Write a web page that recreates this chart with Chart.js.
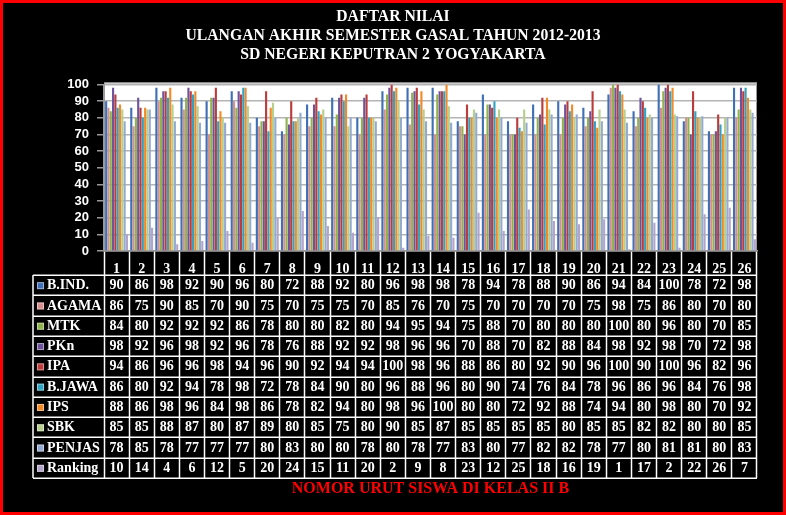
<!DOCTYPE html>
<html>
<head>
<meta charset="utf-8">
<title>Daftar Nilai</title>
<script src="https://cdn.jsdelivr.net/npm/chart.js@4.4.1/dist/chart.umd.min.js"></script>
<style>
  html, body { margin: 0; padding: 0; background: #000; }
  #wrap { position: relative; width: 786px; height: 515px; }
  #frame { position: absolute; left: 0; top: 0; width: 786px; height: 515px; box-sizing: border-box; border: 3px solid #ff0000; pointer-events: none; }
</style>
</head>
<body>
<div id="wrap">
  <canvas id="nilaiChart"></canvas>
  <div id="frame"></div>
</div>
<script>
// Data
const students = ['1', '2', '3', '4', '5', '6', '7', '8', '9', '10', '11', '12', '13',
    '14', '15', '16', '17', '18', '19', '20', '21', '22', '23', '24', '25', '26'];
const yTicks = [0, 10, 20, 30, 40, 50, 60, 70, 80, 90, 100];

const subjects = ['B.IND.', 'AGAMA', 'MTK', 'PKn', 'IPA', 'B.JAWA', 'IPS', 'SBK', 'PENJAS', 'Ranking'];
const bInd    = [90, 86, 98, 92, 90, 96, 80, 72, 88, 92, 80, 96, 98, 98, 78, 94, 78, 88, 90, 86, 94, 84, 100, 78, 72, 98];
const agama   = [86, 75, 90, 85, 70, 90, 75, 70, 75, 75, 70, 85, 76, 70, 75, 70, 70, 70, 70, 75, 98, 75, 86, 80, 70, 80];
const mtk     = [84, 80, 92, 92, 92, 86, 78, 80, 80, 82, 80, 94, 95, 94, 75, 88, 70, 80, 80, 80, 100, 80, 96, 80, 70, 85];
const pkn     = [98, 92, 96, 98, 92, 96, 78, 76, 88, 92, 92, 98, 96, 96, 70, 88, 70, 82, 88, 84, 98, 92, 98, 70, 72, 98];
const ipa     = [94, 86, 96, 96, 98, 94, 96, 90, 92, 94, 94, 100, 98, 96, 88, 86, 80, 92, 90, 96, 100, 90, 100, 96, 82, 96];
const bJawa   = [86, 80, 92, 94, 78, 98, 72, 78, 84, 90, 80, 96, 88, 96, 80, 90, 74, 76, 84, 78, 96, 86, 96, 84, 76, 98];
const ips     = [88, 86, 98, 96, 84, 98, 86, 78, 82, 94, 80, 98, 96, 100, 80, 80, 72, 92, 88, 74, 94, 80, 98, 80, 70, 92];
const sbk     = [85, 85, 88, 87, 80, 87, 89, 80, 85, 75, 80, 90, 85, 87, 85, 85, 85, 85, 80, 85, 85, 82, 82, 80, 80, 85];
const penjas  = [78, 85, 78, 77, 77, 77, 80, 83, 80, 80, 78, 80, 78, 77, 83, 80, 77, 82, 82, 78, 77, 80, 81, 81, 80, 83];
const ranking = [10, 14, 4, 6, 12, 5, 20, 24, 15, 11, 20, 2, 9, 8, 23, 12, 25, 18, 16, 19, 1, 17, 2, 22, 26, 7];

const seriesValues = [bInd, agama, mtk, pkn, ipa, bJawa, ips, sbk, penjas, ranking];
const seriesColors = ['#3f6fb5', '#d58f8c', '#8fb34c', '#6e529a', '#bb3c3a',
    '#2fa3c2', '#f28a28', '#b7cf8d', '#94aad2', '#b3a4c9'];

const serif = "'Liberation Serif', 'DejaVu Serif', serif";
const sans = "'Liberation Sans', 'DejaVu Sans', sans-serif";
const TABLE_HEADER = 24;   // height of the student number row
const TABLE_DEPTH = 227;   // from the axis line down to the bottom of the table

// Plot background
const plotBackground = {
    id: 'plotBackground',
    beforeDraw(chart) {
        const { ctx, chartArea } = chart;
        ctx.save();
        ctx.fillStyle = '#ffffff';
        ctx.fillRect(chartArea.left, chartArea.top - 2, chartArea.right - chartArea.left, chartArea.bottom - chartArea.top + 2);
        ctx.strokeStyle = '#9a9a9a';
        ctx.lineWidth = 1;
        ctx.strokeRect(chartArea.left + 0.5, chartArea.top - 1.5, chartArea.right - chartArea.left - 1, chartArea.bottom - chartArea.top + 1);
        ctx.restore();
    }
};

// Data table under the x axis
const dataTable = {
    id: 'dataTable',
    afterDraw(chart) {
        const ctx = chart.ctx;
        const x = chart.scales.x;
        const top = x.top + TABLE_HEADER;
        const bottom = x.top + TABLE_DEPTH;
        const left = 33;
        const rowH = (bottom - top) / subjects.length;

        ctx.save();
        ctx.strokeStyle = '#ffffff';
        ctx.lineWidth = 1.5;
        ctx.beginPath();
        for (let r = 0; r <= subjects.length; r++) {
            const y = Math.round(top + r * rowH) + 0.25;
            ctx.moveTo(left, y);
            ctx.lineTo(x.right, y);
        }
        ctx.moveTo(left, top);
        ctx.lineTo(left, bottom);
        ctx.stroke();

        ctx.font = 'bold 14px ' + serif;
        ctx.textBaseline = 'middle';
        subjects.forEach((name, r) => {
            const yc = top + r * rowH + rowH / 2 + 0.5;
            // legend key
            ctx.fillStyle = seriesColors[r];
            ctx.fillRect(left + 4, yc - 3.5, 7, 7);
            ctx.strokeStyle = 'rgba(255,255,255,0.45)';
            ctx.lineWidth = 1;
            ctx.strokeRect(left + 4.5, yc - 3, 6, 6);
            // name
            ctx.fillStyle = '#ffffff';
            ctx.textAlign = 'left';
            ctx.fillText(name, left + 14, yc);
            // values
            ctx.textAlign = 'center';
            seriesValues[r].forEach((v, i) => {
                ctx.fillText(String(v), x.getPixelForValue(i), yc);
            });
        });
        ctx.restore();
    }
};

const ctx = document.getElementById('nilaiChart').getContext('2d');
new Chart(ctx, {
    type: 'bar',
    data: {
        labels: students,
        datasets: subjects.map((name, i) => ({
            label: name,
            data: seriesValues[i],
            backgroundColor: seriesColors[i],
            borderWidth: 0,
            barPercentage: 0.92,
            categoryPercentage: 0.92
        }))
    },
    options: {
        responsive: true,
        maintainAspectRatio: false,
        animation: false,
        layout: {
            padding: { left: 0, right: 0, top: 0, bottom: 10 }
        },
        plugins: {
            legend: { display: false },
            tooltip: { enabled: false },
            title: {
                display: true,
                text: ['DAFTAR NILAI', 'ULANGAN AKHIR SEMESTER GASAL TAHUN 2012-2013', 'SD NEGERI KEPUTRAN 2 YOGYAKARTA'],
                color: '#ffffff',
                font: { family: serif, size: 15.7, weight: 'bold', lineHeight: 1.2 },
                padding: { top: 8, bottom: 20 }
            }
        },
        scales: {
            y: {
                min: 0,
                max: 100,
                afterBuildTicks(scale) {
                    scale.ticks = yTicks.map(v => ({ value: v }));
                },
                afterFit(scale) {
                    scale.width = 104;
                },
                ticks: {
                    color: '#ffffff',
                    autoSkip: false,
                    padding: 8,
                    font: { family: sans, size: 13, weight: 'bold' }
                },
                grid: {
                    color: '#b4b4b4',
                    lineWidth: 1.5,
                    tickLength: 7,
                    tickColor: '#9a9a9a'
                },
                border: { color: '#9a9a9a', width: 1.5 }
            },
            // empty margin on the right so the title stays centred on the page
            yRight: {
                position: 'right',
                display: true,
                afterFit(scale) {
                    scale.width = 29;
                },
                ticks: { display: false },
                grid: { display: false, drawTicks: false },
                border: { display: false }
            },
            x: {
                afterFit(scale) {
                    scale.height = 254;
                },
                ticks: {
                    color: '#ffffff',
                    autoSkip: false,
                    maxRotation: 0,
                    padding: -217,
                    font: { family: serif, size: 14, weight: 'bold' }
                },
                grid: {
                    offset: true,
                    drawOnChartArea: false,
                    tickLength: TABLE_DEPTH,
                    tickColor: '#ffffff',
                    tickWidth: 1.5,
                    color: '#ffffff'
                },
                border: { color: '#9a9a9a', width: 1.5 },
                title: {
                    display: true,
                    text: 'NOMOR URUT SISWA DI KELAS II B',
                    color: '#ff0000',
                    font: { family: serif, size: 16, weight: 'bold' },
                    padding: { top: 4, bottom: 7 }
                }
            }
        }
    },
    plugins: [plotBackground, dataTable]
});
</script>
</body>
</html>
